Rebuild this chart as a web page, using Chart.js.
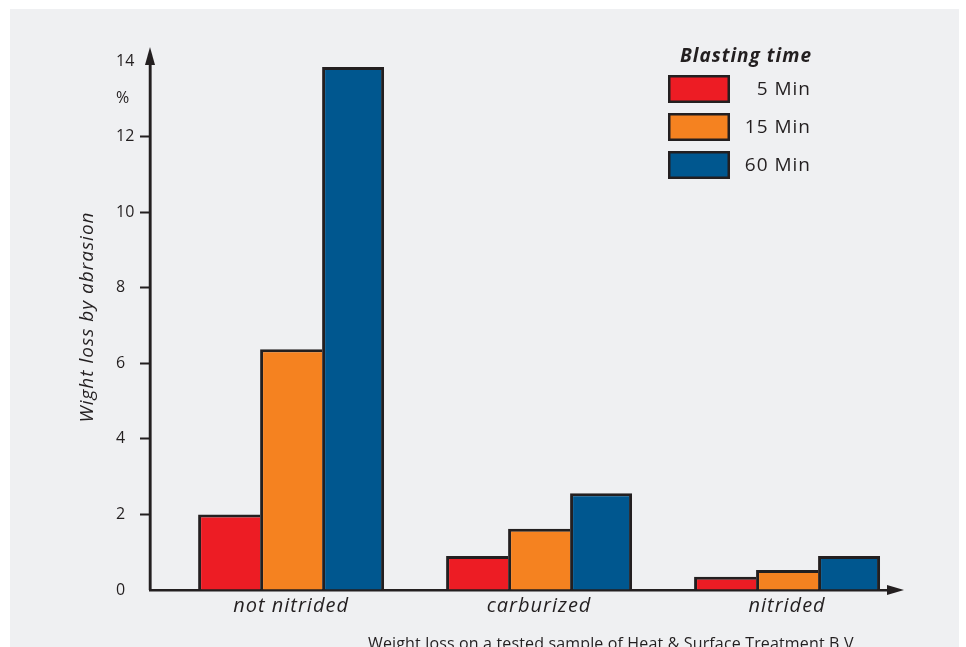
<!DOCTYPE html>
<html>
<head>
<meta charset="utf-8">
<script src="https://cdn.jsdelivr.net/npm/chart.js@4/dist/chart.umd.min.js"></script>
<style>
  html, body { margin: 0; padding: 0; background: #ffffff; }
  #wrap { width: 966px; height: 647px; position: relative; }
</style>
</head>
<body>
<div id="wrap"><canvas id="chart" width="966" height="647"></canvas></div>
<script>
// Weight loss by abrasion (%) for three surface conditions and three blasting times
const categories = ['not nitrided', 'carburized', 'nitrided'];
const seriesLabels = ['5 Min', '15 Min', '60 Min'];
const loss5min = [2.0, 0.9, 0.35];
const loss15min = [6.37, 1.62, 0.53];
const loss60min = [13.84, 2.56, 0.9];
const yTickValues = [0, 2, 4, 6, 8, 10, 12, 14];
const yUnitLabel = '%';
const yUnitPosition = 13;
const legendTitle = 'Blasting time';
const yTitle = 'Wight loss by abrasion';
const caption = 'Weight loss on a tested sample of Heat & Surface Treatment B.V.';

const INK = '#231f20';
const PANEL = '#eff0f2';
const COLORS = ['#ed1c24', '#f58220', '#00578f'];
const FONT = '"Open Sans", "Noto Sans", sans-serif';

const seriesValues = [loss5min, loss15min, loss60min];
const toPoints = vals => vals.map((v, i) => ({ x: i, y: v }));

// Grey panel behind the chart; wide letter spacing for the category labels
const panelPlugin = {
  id: 'panel',
  beforeDraw(chart) {
    const { ctx, width, height } = chart;
    ctx.save();
    ctx.fillStyle = '#ffffff';
    ctx.fillRect(0, 0, width, height);
    ctx.fillStyle = PANEL;
    ctx.fillRect(10, 9, 949, height - 9);
    ctx.restore();
    const xs = chart.scales.x;
    if (xs && !xs._spaced) {
      const orig = xs.drawLabels.bind(xs);
      xs.drawLabels = area => {
        chart.ctx.save();
        chart.ctx.letterSpacing = '1px';
        orig(area);
        chart.ctx.restore();
      };
      xs._spaced = true;
    }
  }
};

// Arrowheads on both axes, axis title, legend block and caption
const decorPlugin = {
  id: 'decor',
  afterDraw(chart) {
    const { ctx, chartArea: a } = chart;
    ctx.save();
    ctx.fillStyle = INK;
    ctx.strokeStyle = INK;
    ctx.lineWidth = 2.5;
    // y axis arrow
    ctx.beginPath();
    ctx.moveTo(a.left, a.bottom);
    ctx.lineTo(a.left, a.top);
    ctx.stroke();
    ctx.beginPath();
    ctx.moveTo(a.left, a.top - 14);
    ctx.lineTo(a.left - 5, a.top + 4);
    ctx.lineTo(a.left + 5, a.top + 4);
    ctx.closePath();
    ctx.fill();
    // x axis arrow
    ctx.beginPath();
    ctx.moveTo(a.right + 17, a.bottom);
    ctx.lineTo(a.right, a.bottom - 5);
    ctx.lineTo(a.right, a.bottom + 5);
    ctx.closePath();
    ctx.fill();

    ctx.letterSpacing = '1px';
    // y axis title
    ctx.save();
    ctx.translate(88, 317);
    ctx.rotate(-Math.PI / 2);
    ctx.font = 'italic 19px ' + FONT;
    ctx.textAlign = 'center';
    ctx.textBaseline = 'middle';
    ctx.fillText(yTitle, 0, 0);
    ctx.restore();

    // legend
    const boxX = 668, boxW = 62, boxH = 28, rowGap = 38, firstTop = 75, textRight = 811;
    ctx.font = 'italic bold 19px ' + FONT;
    ctx.textAlign = 'center';
    ctx.textBaseline = 'middle';
    ctx.fillText(legendTitle, 746, 57);
    ctx.font = '19px ' + FONT;
    chart.data.datasets.forEach((ds, i) => {
      const top = firstTop + i * rowGap;
      ctx.fillStyle = INK;
      ctx.fillRect(boxX, top, boxW, boxH);
      ctx.fillStyle = ds.backgroundColor;
      ctx.fillRect(boxX + 2.5, top + 2.5, boxW - 5, boxH - 5);
      ctx.fillStyle = INK;
      ctx.textAlign = 'right';
      ctx.fillText(ds.label, textRight, top + boxH / 2 + 1);
    });

    // caption
    ctx.letterSpacing = '0.15px';
    ctx.font = '16px ' + FONT;
    ctx.textAlign = 'left';
    ctx.textBaseline = 'alphabetic';
    ctx.fillStyle = INK;
    ctx.fillText(caption, 368, 648.5);
    ctx.restore();
  }
};

const datasets = seriesValues.map((vals, i) => ({
  label: seriesLabels[i],
  data: toPoints(vals),
  backgroundColor: COLORS[i],
  borderColor: INK,
  borderWidth: i === seriesValues.length - 1
    ? { top: 3, left: 3, right: 3, bottom: 0 }
    : { top: 3, left: 3, right: 0, bottom: 0 },
  borderSkipped: false,
  categoryPercentage: 0.75,
  barPercentage: 1.0
}));

new Chart(document.getElementById('chart'), {
  type: 'bar',
  data: { datasets },
  plugins: [panelPlugin, decorPlugin],
  options: {
    responsive: false,
    animation: false,
    layout: { padding: { left: 116, top: 61, right: 79, bottom: 0 } },
    plugins: { legend: { display: false }, tooltip: { enabled: false } },
    scales: {
      x: {
        type: 'linear',
        min: -0.569,
        max: 2.403,
        bounds: 'data',
        offset: false,
        afterFit(scale) { scale.height = 57; },
        afterBuildTicks(scale) { scale.ticks = categories.map((_, i) => ({ value: i })); },
        border: { display: true, color: INK, width: 2.5 },
        grid: { display: false, drawTicks: false, offset: false },
        ticks: {
          autoSkip: false,
          maxRotation: 0,
          padding: 4,
          color: INK,
          font: { family: FONT, size: 20, style: 'italic' },
          callback: v => categories[Math.round(v)]
        }
      },
      y: {
        min: 0,
        max: 14,
        afterFit(scale) { scale.width = 34; },
        border: { display: true, color: INK, width: 2.5 },
        grid: {
          drawOnChartArea: false,
          drawTicks: true,
          tickLength: 10,
          tickWidth: 2,
          tickColor: c => (c.tick && c.tick.value > 0 && c.tick.value < 14 && c.tick.value % 2 === 0) ? INK : 'rgba(0,0,0,0)'
        },
        ticks: {
          stepSize: 1,
          autoSkip: false,
          padding: 6,
          crossAlign: 'far',
          color: INK,
          font: { family: FONT, size: 16 },
          callback: v => yTickValues.includes(v) ? String(v) : (v === yUnitPosition ? yUnitLabel : null)
        }
      }
    }
  }
});
</script>
</body>
</html>
